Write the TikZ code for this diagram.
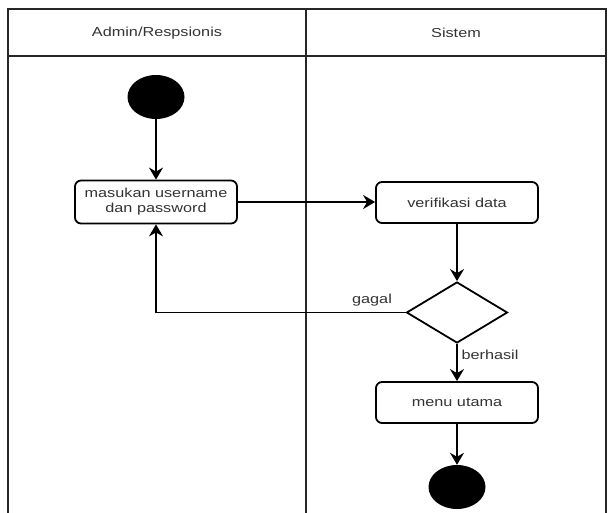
\documentclass[tikz,border=0pt]{standalone}
\usepackage{fontspec}
\usetikzlibrary{shapes.geometric,arrows.meta}
\newfontfamily\lanefont[FakeStretch=1.25]{Liberation Sans}
\definecolor{inktext}{HTML}{333333}
\begin{document}
\begin{tikzpicture}[x=1pt,y=-1pt,
  every node/.style={font=\lanefont\fontsize{13}{15}\selectfont, text=inktext},
  frameline/.style={line width=2.4pt, draw=black!85},
  flow/.style={line width=1.8pt, -{Stealth[length=12pt,width=14pt,inset=4pt]}},
  actbox/.style={draw, line width=1.8pt, rounded corners=6pt, fill=white,
    minimum width=162pt, inner sep=0pt, align=center},
  dot/.style={ellipse, fill=black, minimum width=57pt, minimum height=44pt, inner sep=0pt},
  choice/.style={diamond, draw, line width=1.8pt, fill=white, inner sep=0pt,
    minimum width=101pt, minimum height=61pt}]
\useasboundingbox (0,0) rectangle (611,512);

% swimlane frame
\draw[frameline] (8,520) -- (8,9) -- (606,9) -- (606,520);
\draw[frameline] (8,56) -- (606,56);
\draw[frameline] (306,9) -- (306,520);
\node (laneA) at (157,33) {Admin/Respsionis};
\node (laneB) at (456,33) {Sistem};

% activity nodes
\node[dot] (start) at (156,97) {};
\node[actbox, minimum height=43pt] (login) at (156,202) {masukan username\\dan password};
\node[actbox, minimum height=41pt] (verif) at (457,202.5) {verifikasi data};
\node[choice] (dec) at (457,312.5) {};
\node[actbox, minimum height=41pt] (menu) at (457,402.5) {menu utama};
\node[dot] (stop) at (457,487) {};

% flows
\draw[flow] (start) -- (login);
\draw[flow] (login.east) -- (login.east -| verif.west);
\draw[flow] (verif) -- (dec);
\draw[flow] (dec.west) -| (login.south);
\node (gagal) at (372,300) {gagal};
\draw[flow] (dec) -- (menu);
\node[anchor=west] (berhasil) at (458,355) {berhasil};
\draw[flow] (menu) -- (stop);
\end{tikzpicture}
\end{document}
